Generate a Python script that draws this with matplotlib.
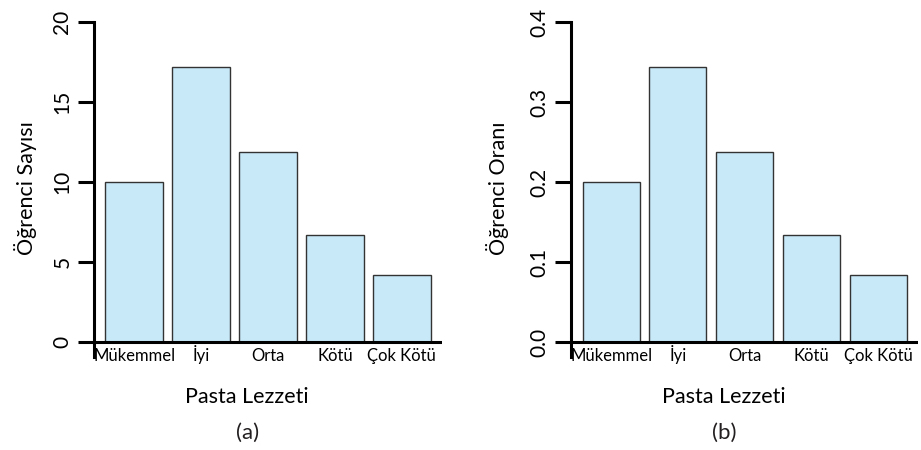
import matplotlib
matplotlib.use("Agg")
import matplotlib.pyplot as plt

plt.rcParams['font.family'] = ['Lato', 'DejaVu Sans']
plt.rcParams['text.color'] = '#231f20'

categories = ['Mükemmel', 'İyi', 'Orta', 'Kötü', 'Çok Kötü']
counts = [10.0, 17.2, 11.9, 6.7, 4.2]
ratios = [0.200, 0.344, 0.238, 0.134, 0.084]

count_ticks = [0, 5, 10, 15, 20]
ratio_ticks = [0.0, 0.1, 0.2, 0.3, 0.4]
ratio_tick_labels = ['0.0', '0.1', '0.2', '0.3', '0.4']

bar_color = '#c7e9f8'
line_w = 2.2

fig = plt.figure(figsize=(9.21, 4.5), dpi=100)


def draw_panel(ax, values, ticks, tick_labels, ylabel, tag, ymin, ylab_x):
    x = list(range(len(categories)))
    ax.bar(x, values, width=0.855, color=bar_color, edgecolor='#333333', linewidth=1.0, zorder=2)
    ax.set_xlim(-0.6, 4.6)
    ax.set_ylim(ymin, ticks[-1])
    ax.axhline(0, color='black', linewidth=line_w, zorder=3)

    for s in ['top', 'right', 'bottom']:
        ax.spines[s].set_visible(False)
    ax.spines['left'].set_linewidth(line_w)

    ax.set_yticks(ticks)
    ax.set_yticklabels(tick_labels, rotation=90, va='center', fontsize=15)
    ax.tick_params(axis='y', length=11.5, width=line_w, pad=4)

    ax.set_xticks(x)
    ax.set_xticklabels(categories, fontsize=12, va='baseline')
    ax.tick_params(axis='x', length=0, pad=3)

    ax.set_xlabel('Pasta Lezzeti', fontsize=15.5, va='center')
    ax.xaxis.set_label_coords(0.44, -0.119)
    ax.set_ylabel(ylabel, fontsize=15.5, va='center')
    ax.yaxis.set_label_coords(ylab_x, 0.505)
    ax.text(0.44, -0.227, tag, transform=ax.transAxes, ha='center', va='center', fontsize=16)


ax1 = fig.add_axes([0.102, 0.2067, 0.378, 0.744])
draw_panel(ax1, counts, count_ticks, [str(t) for t in count_ticks],
           'Öğrenci Sayısı', '(a)', -0.94, -0.198)

ax2 = fig.add_axes([0.620, 0.2067, 0.377, 0.744])
draw_panel(ax2, ratios, ratio_ticks, ratio_tick_labels,
           'Öğrenci Oranı', '(b)', -0.0188, -0.213)

fig.savefig('out.png', dpi=100)
